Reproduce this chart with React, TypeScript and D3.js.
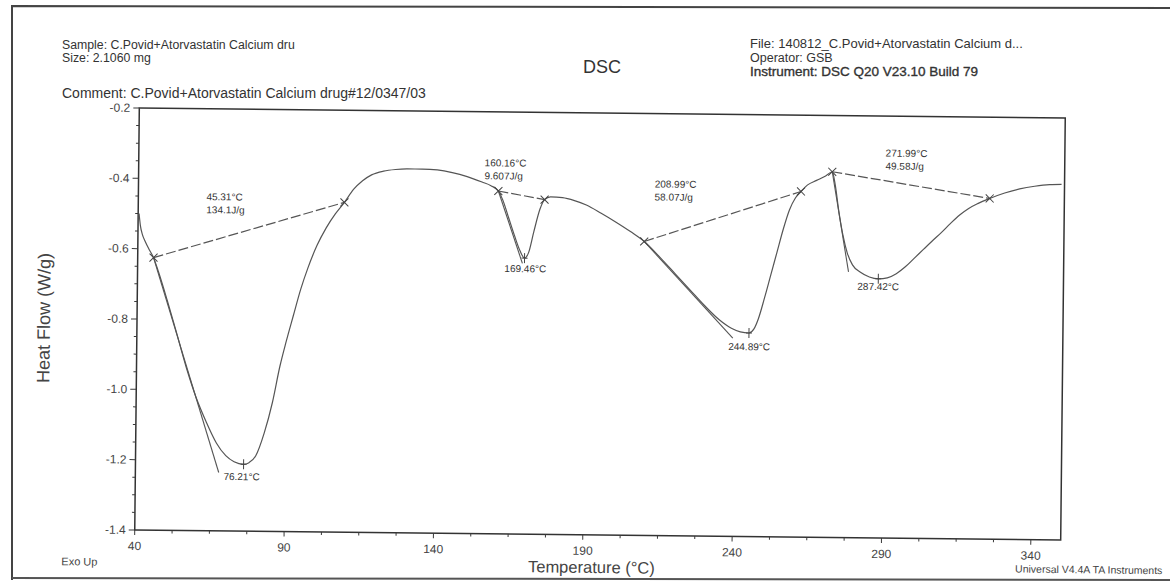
import React from 'react';
import * as d3 from 'd3';

// DSC thermogram
const temperature = [
  40.3, 40.8, 41.5, 42.5, 43.8, 45.3, 47, 50, 53, 56.8, 60, 63.5, 67, 70.2, 73, 76.2, 78, 80.2,
  83, 85.6, 88, 90, 92.3, 94.7, 97, 100, 103, 106, 109, 112, 115, 118, 122, 126, 130, 135, 140,
  145, 150, 155, 158, 160.5, 162, 164, 166, 168, 169.5, 170.8, 172.5, 174.5, 176, 178, 182, 186,
  190, 195, 200, 205, 209.5, 215, 220, 225, 230, 235, 239, 242, 244.9, 246.5, 248, 250, 252, 254,
  256, 258, 260, 261.8, 264, 267, 270, 272.2, 273.3, 274.5, 276, 277.5, 279.3, 282, 285, 288, 291,
  294, 297, 300, 303, 306, 309, 312, 315, 318, 321, 325, 330, 335, 340, 345, 349
];
const heatFlow = [
  -0.5, -0.535, -0.56, -0.58, -0.602, -0.625, -0.665, -0.745, -0.83, -0.94, -1.02, -1.09, -1.15,
  -1.186, -1.203, -1.21, -1.205, -1.186, -1.12, -1.034, -0.93, -0.86, -0.786, -0.71, -0.65, -0.585,
  -0.535, -0.495, -0.462, -0.425, -0.4, -0.383, -0.372, -0.367, -0.365, -0.365, -0.367, -0.374,
  -0.385, -0.4, -0.41, -0.425, -0.45, -0.5, -0.55, -0.595, -0.615, -0.6, -0.54, -0.475, -0.448,
  -0.44, -0.442, -0.45, -0.462, -0.485, -0.51, -0.537, -0.564, -0.61, -0.655, -0.7, -0.745, -0.785,
  -0.808, -0.818, -0.821, -0.81, -0.78, -0.72, -0.655, -0.59, -0.525, -0.47, -0.435, -0.417,
  -0.398, -0.385, -0.372, -0.36, -0.4, -0.47, -0.54, -0.59, -0.624, -0.645, -0.658, -0.663, -0.66,
  -0.648, -0.628, -0.603, -0.578, -0.553, -0.529, -0.503, -0.479, -0.46, -0.446, -0.431, -0.415,
  -0.403, -0.395, -0.39, -0.389
];

// integration baselines [t1, v1, t2, v2]
const baselines = [
  [45.3, -0.625, 109, -0.462],
  [160.5, -0.425, 176, -0.448],
  [209.5, -0.564, 261.8, -0.417],
  [272.2, -0.36, 325, -0.431]
];
// onset tangents
const tangents = [
  [45.3, -0.625, 67.9, -1.234],
  [160.5, -0.425, 168.8, -0.63],
  [209.5, -0.564, 239.5, -0.836],
  [272.2, -0.36, 278, -0.644]
];
const limitMarks = [
  [45.3, -0.625], [109, -0.462], [160.5, -0.425], [176, -0.448],
  [209.5, -0.564], [261.8, -0.417], [272.2, -0.36], [325, -0.431]
];
const peakMarks = [[76.2, -1.21], [169.5, -0.615], [244.9, -0.821], [288, -0.663]];

// annotation text [t, v, line1, line2]
const notes: [number, number, string, string][] = [
  [62.8, -0.46, '45.31°C', '134.1J/g'],
  [69.5, -1.255, '76.21°C', ''],
  [155.8, -0.355, '160.16°C', '9.607J/g'],
  [162.8, -0.655, '169.46°C', ''],
  [212.8, -0.41, '208.99°C', '58.07J/g'],
  [238, -0.87, '244.89°C', ''],
  [290, -0.315, '271.99°C', '49.58J/g'],
  [281, -0.695, '287.42°C', '']
];

const xTicks = [40, 90, 140, 190, 240, 290, 340];
const yTicks = [-0.2, -0.4, -0.6, -0.8, -1.0, -1.2, -1.4];

const W = 1173;
const H = 583;
const m = { left: 137, right: 1063, top: 113, bottom: 535 };
const font = "'Liberation Sans', Arial, sans-serif";
const ink = '#3a3a3a';

export default function App() {
  const x = d3.scaleLinear().domain([40, 350]).range([m.left, m.right]);
  const y = d3.scaleLinear().domain([-1.4, -0.2]).range([m.bottom, m.top]);

  const pts = temperature.map((t, i) => [t, heatFlow[i]] as [number, number]);
  const line = d3.line<[number, number]>()
    .x(d => x(d[0]))
    .y(d => y(d[1]))
    .curve(d3.curveMonotoneX);

  const xMinor = d3.range(40, 351, 12.5).filter(t => !xTicks.includes(t));
  const yMinor = d3.range(-1.4, -0.19, 0.05).filter(v => !yTicks.some(t => Math.abs(t - v) < 1e-6));

  // the scan sits slightly tilted
  const cx = (m.left + m.right) / 2;
  const cy = (m.top + m.bottom) / 2;

  return (
    <svg width={W} height={H} style={{ position: 'absolute', left: 0, top: 0, background: '#fff' }}
      fontFamily={font}>
      <rect x={0} y={0} width={W} height={H} fill="#fff" />
      {/* page frame */}
      <path d="M12,580 L12,6 L1170,8" fill="none" stroke="#444" strokeWidth={2} />
      <line x1={12} y1={578} x2={1170} y2={580} stroke="#555" strokeWidth={2} />

      {/* header */}
      <g fill="#333" fontSize={12.3}>
        <text x={62} y={49}>Sample: C.Povid+Atorvastatin Calcium dru</text>
        <text x={62} y={62}>Size:  2.1060 mg</text>
        <text x={62} y={98} fontSize={14}>Comment: C.Povid+Atorvastatin Calcium drug#12/0347/03</text>
        <text x={750} y={48} fontSize={13}>File: 140812_C.Povid+Atorvastatin Calcium d...</text>
        <text x={750} y={62} fontSize={12.5}>Operator: GSB</text>
        <text x={750} y={76} fontSize={13.5} stroke="#333" strokeWidth={0.35}>
          Instrument: DSC Q20 V23.10 Build 79
        </text>
        <text x={602} y={73} fontSize={18} textAnchor="middle">DSC</text>
      </g>

      <g transform={`rotate(0.62, ${cx}, ${cy})`}>
        <rect x={m.left} y={m.top} width={m.right - m.left} height={m.bottom - m.top}
          fill="none" stroke="#333" strokeWidth={1.5} />

        {/* y axis */}
        {yTicks.map(v => (
          <g key={v}>
            <line x1={m.left - 6} x2={m.left} y1={y(v)} y2={y(v)} stroke={ink} />
            <text x={m.left - 9} y={y(v) + 4} fontSize={12} fill="#444" textAnchor="end">
              {v.toFixed(1)}
            </text>
          </g>
        ))}
        {yMinor.map(v => (
          <line key={v} x1={m.left - 3} x2={m.left} y1={y(v)} y2={y(v)} stroke={ink} />
        ))}

        {/* x axis */}
        {xTicks.map(t => (
          <g key={t}>
            <line x1={x(t)} x2={x(t)} y1={m.bottom} y2={m.bottom + 5} stroke={ink} />
            <text x={x(t)} y={m.bottom + 20} fontSize={12} fill="#444" textAnchor="middle">{t}</text>
          </g>
        ))}
        {xMinor.map(t => (
          <line key={t} x1={x(t)} x2={x(t)} y1={m.bottom} y2={m.bottom + 3} stroke={ink} />
        ))}

        {/* curve */}
        <path d={line(pts) ?? ''} fill="none" stroke="#555" strokeWidth={1.2} />

        {baselines.map((b, i) => (
          <line key={i} x1={x(b[0])} y1={y(b[1])} x2={x(b[2])} y2={y(b[3])}
            stroke="#555" strokeWidth={1.2} strokeDasharray="10 3" />
        ))}
        {tangents.map((b, i) => (
          <line key={i} x1={x(b[0])} y1={y(b[1])} x2={x(b[2])} y2={y(b[3])}
            stroke="#555" strokeWidth={1.1} />
        ))}
        {limitMarks.map((p, i) => (
          <path key={i}
            d={`M${x(p[0]) - 4},${y(p[1]) - 4}L${x(p[0]) + 4},${y(p[1]) + 4}M${x(p[0]) + 4},${y(p[1]) - 4}L${x(p[0]) - 4},${y(p[1]) + 4}`}
            stroke="#444" strokeWidth={1} />
        ))}
        {peakMarks.map((p, i) => (
          <path key={i}
            d={`M${x(p[0])},${y(p[1]) - 5}L${x(p[0])},${y(p[1]) + 5}M${x(p[0]) - 3},${y(p[1])}L${x(p[0]) + 3},${y(p[1])}`}
            stroke="#444" strokeWidth={1} />
        ))}

        <g fontSize={10} fill="#333">
          {notes.map((n, i) => (
            <text key={i} x={x(n[0])} y={y(n[1])}>
              <tspan x={x(n[0])} dy={0}>{n[2]}</tspan>
              {n[3] && <tspan x={x(n[0])} dy={13}>{n[3]}</tspan>}
            </text>
          ))}
        </g>

        {/* axis titles */}
        <text transform={`translate(50, ${(m.top + m.bottom) / 2}) rotate(-90)`} fontSize={18}
          fill="#444" textAnchor="middle">Heat Flow (W/g)</text>
        <text x={594} y={m.bottom + 38} fontSize={16.5} fill="#444" textAnchor="middle">Temperature (°C)</text>
        <text x={64} y={m.bottom + 36} fontSize={11} fill="#444">Exo Up</text>
        <text x={1165} y={m.bottom + 33} fontSize={10.5} fill="#444" textAnchor="end">
          Universal V4.4A TA Instruments
        </text>
      </g>
    </svg>
  );
}
